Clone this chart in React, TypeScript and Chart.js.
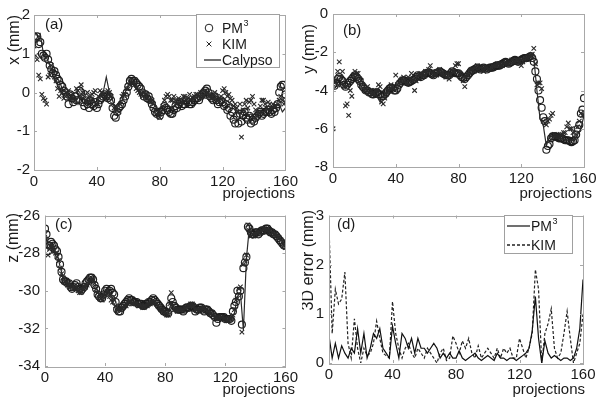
import React, { useEffect, useRef } from 'react';
import { Chart, registerables } from 'chart.js';

Chart.register(...registerables);

const FONT = '"Liberation Sans", Arial, sans-serif';
const TXT = '#1a1a1a';

// every projection (markers)
const PROJ = [
  0, 1, 2, 3, 4, 5, 6, 7, 8, 9,
  10, 11, 12, 13, 14, 15, 16, 17, 18, 19,
  20, 21, 22, 23, 24, 25, 26, 27, 28, 29,
  30, 31, 32, 33, 34, 35, 36, 37, 38, 39,
  40, 41, 42, 43, 44, 45, 46, 47, 48, 49,
  50, 51, 52, 53, 54, 55, 56, 57, 58, 59,
  60, 61, 62, 63, 64, 65, 66, 67, 68, 69,
  70, 71, 72, 73, 74, 75, 76, 77, 78, 79,
  80, 81, 82, 83, 84, 85, 86, 87, 88, 89,
  90, 91, 92, 93, 94, 95, 96, 97, 98, 99,
  100, 101, 102, 103, 104, 105, 106, 107, 108, 109,
  110, 111, 112, 113, 114, 115, 116, 117, 118, 119,
  120, 121, 122, 123, 124, 125, 126, 127, 128, 129,
  130, 131, 132, 133, 134, 135, 136, 137, 138, 139,
  140, 141, 142, 143, 144, 145, 146, 147, 148, 149,
  150, 151, 152, 153, 154, 155, 156, 157, 158, 159,
  160,
];
// every second projection (lines)
const PROJ2 = [
  0, 2, 4, 6, 8, 10, 12, 14, 16, 18,
  20, 22, 24, 26, 28, 30, 32, 34, 36, 38,
  40, 42, 44, 46, 48, 50, 52, 54, 56, 58,
  60, 62, 64, 66, 68, 70, 72, 74, 76, 78,
  80, 82, 84, 86, 88, 90, 92, 94, 96, 98,
  100, 102, 104, 106, 108, 110, 112, 114, 116, 118,
  120, 122, 124, 126, 128, 130, 132, 134, 136, 138,
  140, 142, 144, 146, 148, 150, 152, 154, 156, 158,
  160,
];

// (a) x (mm)
const A_PM3 = [
  1.45, 1.4, 1.45, 1.25, 1.3, 1.0, 0.95, 0.9, 1.0, 0.85,
  0.7, 0.6, 0.5, 0.55, 0.45, 0.35, 0.3, 0.2, 0.15, 0.05,
  0.0, -0.1, -0.3, -0.05, -0.15, -0.25, -0.1, -0.2, -0.2, 0.05,
  0.0, -0.25, -0.35, -0.2, -0.3, -0.4, -0.2, -0.3, -0.35, -0.25,
  -0.4, -0.3, -0.2, -0.15, -0.1, -0.05, -0.1, -0.15, -0.1, -0.2,
  -0.4, -0.6, -0.65, -0.5, -0.4, -0.35, -0.3, -0.2, -0.1, 0.0,
  0.15, 0.3, 0.35, 0.3, 0.3, 0.25, 0.2, 0.15, 0.1, 0.0,
  -0.1, -0.05, -0.15, -0.1, -0.2, -0.3, -0.4, -0.5, -0.55, -0.5,
  -0.6, -0.5, -0.45, -0.35, -0.4, -0.45, -0.5, -0.55, -0.55, -0.45,
  -0.35, -0.4, -0.3, -0.25, -0.35, -0.3, -0.3, -0.2, -0.25, -0.3,
  -0.3, -0.25, -0.2, -0.15, -0.15, -0.2, -0.1, -0.05, 0.0, 0.05,
  0.1, 0.0, -0.1, -0.15, -0.2, -0.1, -0.2, -0.3, -0.25, -0.2,
  -0.25, -0.35, -0.3, -0.45, -0.4, -0.6, -0.5, -0.7, -0.8, -0.6,
  -0.8, -0.55, -0.75, -0.6, -0.5, -0.65, -0.7, -0.6, -0.8, -0.7,
  -0.75, -0.65, -0.6, -0.55, -0.5, -0.6, -0.55, -0.5, -0.5, -0.45,
  -0.5, -0.55, -0.45, -0.5, -0.4, -0.3, 0.0, 0.15, 0.2, 0.2,
  -0.05,
];
const A_KIM = [
  1.2, 0.95, 0.85, 0.45, 0.35, -0.05, -0.15, -0.2, -0.3, 0.4,
  0.45, 0.7, 0.55, 0.4, 0.3, 0.1, -0.1, 0.05, 0.0, -0.15,
  -0.1, 0.0, 0.05, -0.15, -0.1, -0.05, -0.2, 0.1, 0.05, -0.1,
  0.2, 0.0, -0.1, -0.2, 0.0, -0.1, -0.2, -0.05, 0.0, 0.05,
  -0.3, -0.1, 0.05, 0.0, -0.05, -0.15, -0.1, 0.05, 0.0, -0.1,
  -0.3, -0.4, -0.35, -0.45, -0.5, -0.3, -0.1, -0.05, -0.05, 0.1,
  0.1, 0.2, 0.3, 0.25, 0.2, 0.1, 0.05, 0.0, -0.05, -0.1,
  0.0, -0.05, -0.15, -0.2, -0.25, -0.2, -0.3, -0.45, -0.55, -0.6,
  -0.65, -0.5, -0.35, -0.2, -0.1, -0.05, -0.1, -0.2, -0.2, -0.1,
  -0.2, -0.3, -0.15, -0.2, -0.25, -0.1, -0.1, -0.2, -0.15, -0.05,
  -0.2, -0.15, -0.1, -0.05, -0.05, -0.1, 0.0, -0.1, -0.1, 0.05,
  0.0, -0.1, -0.05, -0.15, -0.1, 0.0, -0.1, -0.2, -0.15, -0.1,
  0.05, 0.1, 0.0, -0.1, -0.05, -0.15, -0.2, -0.35, -0.3, -0.4,
  -0.5, -0.3, -1.15, -0.45, -0.3, -0.2, -0.4, -0.25, -0.2, -0.1,
  -0.3, -0.45, -0.6, -0.5, -0.35, -0.2, -0.2, -0.3, -0.4, -0.25,
  -0.3, -0.4, -0.3, -0.35, -0.35, -0.3, -0.2, -0.1, -0.2, -0.3,
  -0.25,
];
const A_CAL = [
  1.4, 1.3, 1.5, 1.0, 0.9, 0.7, 0.55, 0.4, 0.3, 0.1,
  0.0, -0.1, -0.2, -0.1, -0.3, -0.1, -0.2, -0.3, -0.1, -0.2,
  -0.3, -0.1, 0.0, 0.4, 0.0, -0.2, -0.5, -0.3, -0.2, 0.0,
  0.2, 0.3, 0.25, 0.1, 0.0, -0.1, -0.1, -0.2, -0.3, -0.4,
  -0.5, -0.45, -0.3, -0.35, -0.4, -0.3, -0.25, -0.3, -0.2, -0.25,
  -0.2, -0.15, -0.1, -0.1, -0.05, 0.0, -0.1, -0.15, -0.2, -0.2,
  -0.15, -0.2, -0.25, -0.3, -0.4, -0.55, -0.5, -0.45, -0.6, -0.55,
  -0.7, -0.6, -0.5, -0.5, -0.45, -0.45, -0.4, -0.35, -0.3, -0.5,
  -0.4,
];

// (b) y (mm)
const B_PM3 = [
  -3.7, -3.75, -3.6, -3.4, -3.3, -3.4, -3.5, -3.7, -3.8, -3.7,
  -3.6, -3.5, -3.4, -3.3, -3.2, -3.3, -3.4, -3.5, -3.7, -3.8,
  -3.9, -4.0, -4.0, -4.1, -4.1, -4.2, -4.2, -4.15, -4.1, -4.2,
  -4.2, -4.3, -4.3, -4.2, -4.1, -4.0, -3.9, -3.85, -3.9, -4.0,
  -4.0, -3.9, -3.7, -3.6, -3.5, -3.45, -3.5, -3.55, -3.6, -3.55,
  -3.5, -3.45, -3.4, -3.3, -3.2, -3.25, -3.3, -3.2, -3.2, -3.1,
  -3.1, -3.05, -3.1, -3.15, -3.2, -3.1, -3.1, -3.05, -3.0, -3.05,
  -3.1, -3.15, -3.2, -3.2, -3.2, -3.1, -3.0, -3.05, -3.1, -3.1,
  -3.1, -3.2, -3.3, -3.35, -3.4, -3.3, -3.2, -3.1, -3.0, -2.95,
  -2.9, -2.85, -2.8, -2.85, -2.9, -2.85, -2.8, -2.85, -2.9, -2.85,
  -2.8, -2.8, -2.8, -2.75, -2.7, -2.7, -2.7, -2.65, -2.6, -2.55,
  -2.5, -2.55, -2.6, -2.55, -2.5, -2.45, -2.4, -2.45, -2.5, -2.45,
  -2.4, -2.35, -2.3, -2.3, -2.3, -2.25, -2.2, -2.3, -2.5, -3.0,
  -3.4, -4.0, -4.5, -4.9, -5.4, -5.6, -7.1, -6.9, -6.8, -6.5,
  -6.4, -6.4, -6.4, -6.45, -6.5, -6.5, -6.5, -6.55, -6.6, -6.6,
  -6.6, -6.65, -6.7, -6.65, -6.6, -6.3, -6.0, -5.8, -5.2, -5.0,
  -4.4,
];
const B_KIM = [
  -6.0, -3.6, -3.5, -3.0, -2.5, -3.3, -3.0, -3.8, -4.8, -4.7,
  -5.3, -4.0, -4.3, -3.2, -3.0, -3.1, -3.1, -3.4, -3.5, -3.7,
  -4.0, -3.9, -3.8, -4.1, -4.0, -4.2, -4.1, -4.0, -4.0, -3.7,
  -3.8, -4.6, -4.7, -4.4, -4.2, -4.0, -3.9, -3.7, -3.8, -3.9,
  -3.2, -3.7, -3.6, -3.5, -3.4, -3.3, -3.5, -3.6, -3.3, -3.4,
  -3.1, -3.5, -4.0, -3.5, -3.3, -3.2, -3.1, -3.3, -3.2, -3.0,
  -3.0, -2.9, -2.7, -3.1, -3.0, -3.2, -3.2, -3.0, -2.9, -3.1,
  -3.1, -3.2, -3.3, -3.1, -3.4, -3.2, -3.0, -3.0, -2.7, -2.6,
  -2.6, -3.1, -3.2, -3.5, -3.8, -3.3, -3.2, -3.0, -2.9, -2.9,
  -3.0, -2.8, -2.7, -2.9, -2.8, -2.9, -3.0, -2.8, -2.8, -2.9,
  -2.9, -2.8, -2.7, -2.7, -2.7, -2.6, -2.6, -2.7, -2.7, -2.6,
  -2.5, -2.6, -2.6, -2.5, -2.4, -2.5, -2.5, -2.4, -2.4, -2.5,
  -2.7, -2.5, -2.4, -2.3, -2.3, -2.2, -2.2, -2.1, -1.8, -2.6,
  -3.7, -3.6, -3.6, -3.9, -5.6, -5.7, -5.8, -5.6, -5.5, -5.3,
  -5.2, -6.3, -6.4, -6.4, -6.4, -6.3, -6.3, -6.2, -6.2, -5.9,
  -5.7, -6.0, -6.0, -6.2, -6.5, -6.3, -5.9, -5.6, -5.2, -5.3,
  -5.3,
];
const B_CAL = [
  -3.7, -3.5, -3.8, -3.6, -3.8, -3.7, -3.4, -3.3, -3.5, -3.8,
  -3.9, -4.0, -4.1, -4.2, -4.3, -4.6, -4.3, -4.1, -4.0, -3.9,
  -4.0, -3.7, -3.5, -3.6, -3.5, -3.6, -3.4, -3.3, -3.2, -3.3,
  -3.1, -3.0, -3.1, -3.2, -3.0, -3.2, -3.1, -3.2, -3.1, -3.0,
  -3.0, -3.2, -3.3, -3.1, -2.9, -2.8, -2.9, -2.8, -2.9, -2.8,
  -2.9, -2.7, -2.8, -2.7, -2.6, -2.6, -2.5, -2.6, -2.5, -2.4,
  -2.4, -2.3, -2.3, -2.2, -2.3, -4.0, -5.5, -5.8, -6.9, -6.4,
  -6.4, -6.5, -6.5, -6.5, -6.6, -6.6, -6.6, -6.6, -6.3, -6.0,
  -5.3,
];

// (c) z (mm)
const C_PM3 = [
  -26.7, -27.0, -27.9, -27.6, -27.4, -27.5, -27.6, -27.8, -27.9, -28.2,
  -28.6, -29.0, -29.4, -29.5, -29.5, -29.6, -29.6, -29.8, -29.9, -29.8,
  -29.7, -29.6, -29.8, -29.9, -30.0, -29.9, -29.8, -29.6, -29.5, -29.4,
  -29.3, -29.3, -29.4, -29.7, -29.9, -30.2, -30.3, -30.4, -30.4, -30.2,
  -30.0, -29.9, -30.1, -30.0, -29.9, -30.1, -30.2, -30.6, -31.0, -31.1,
  -31.1, -30.9, -30.8, -30.7, -30.6, -30.5, -30.4, -30.5, -30.5, -30.6,
  -30.6, -30.6, -30.7, -30.7, -30.7, -30.8, -30.8, -30.7, -30.7, -30.6,
  -30.6, -30.5, -30.4, -30.5, -30.6, -30.7, -30.8, -30.9, -31.0, -31.1,
  -31.1, -31.2, -31.2, -30.8, -30.4, -30.6, -30.8, -30.9, -31.0, -31.0,
  -31.0, -31.0, -31.1, -31.0, -30.9, -30.9, -30.9, -30.8, -30.8, -30.9,
  -31.1, -31.0, -31.0, -30.9, -30.9, -31.0, -31.1, -31.0, -31.0, -31.1,
  -31.2, -31.2, -31.3, -31.4, -31.7, -31.5, -31.4, -31.4, -31.4, -31.4,
  -31.5, -31.5, -31.5, -31.5, -31.6, -31.1, -30.8, -30.6, -30.0, -30.3,
  -30.0, -31.8, -28.8, -28.5, -28.2, -26.6, -26.7, -26.9, -27.0, -27.0,
  -26.9, -26.9, -27.0, -26.9, -26.8, -26.8, -26.8, -26.7, -26.7, -26.8,
  -26.9, -26.9, -27.0, -27.0, -27.1, -27.2, -27.3, -27.4, -27.5, -27.6,
  -27.6,
];
const C_KIM = [
  -27.0, -27.3, -28.1, -27.8, -27.7, -27.6, -27.9, -28.0, -28.2, -28.4,
  -28.8, -29.1, -29.3, -29.5, -29.6, -29.7, -29.7, -29.8, -29.8, -29.9,
  -29.9, -29.8, -30.0, -30.1, -30.1, -29.9, -29.8, -29.8, -29.7, -29.6,
  -29.5, -29.4, -29.4, -29.6, -29.9, -30.1, -30.2, -30.4, -30.5, -30.3,
  -30.2, -30.0, -30.1, -30.3, -30.5, -30.6, -30.5, -30.8, -31.0, -31.0,
  -31.0, -30.9, -30.9, -30.8, -30.8, -30.7, -30.6, -30.6, -30.7, -30.7,
  -30.7, -30.7, -30.8, -30.8, -30.8, -30.9, -30.9, -30.8, -30.8, -30.7,
  -30.7, -30.6, -30.6, -30.6, -30.7, -30.8, -30.9, -31.0, -31.0, -31.1,
  -31.2, -31.3, -31.3, -30.7, -30.1, -30.8, -31.0, -31.0, -31.1, -31.0,
  -31.0, -31.0, -31.0, -30.9, -30.9, -30.8, -30.8, -30.7, -30.7, -30.8,
  -31.0, -31.0, -31.1, -31.0, -31.0, -30.9, -30.9, -31.0, -31.1, -31.1,
  -31.2, -31.3, -31.3, -31.4, -31.4, -31.5, -31.5, -31.4, -31.4, -31.5,
  -31.5, -31.6, -31.6, -31.5, -31.5, -31.3, -31.0, -30.5, -30.4, -29.9,
  -29.8, -32.2, -28.6, -28.4, -28.1, -26.5, -26.8, -27.1, -27.0, -27.1,
  -27.0, -26.9, -26.9, -26.9, -26.8, -26.7, -26.7, -26.8, -26.8, -26.9,
  -26.8, -26.9, -27.0, -27.0, -27.1, -27.2, -27.2, -27.3, -27.4, -27.6,
  -27.7,
];
const C_CAL = [
  -26.8, -27.8, -27.5, -27.8, -28.0, -28.7, -29.3, -29.5, -29.6, -29.7,
  -29.8, -29.9, -29.9, -29.7, -29.6, -29.4, -29.3, -29.8, -30.2, -30.3,
  -30.1, -30.0, -30.2, -30.3, -30.9, -31.0, -30.8, -30.7, -30.5, -30.6,
  -30.6, -30.7, -30.8, -30.8, -30.7, -30.6, -30.5, -30.6, -30.8, -30.9,
  -31.1, -31.2, -30.6, -30.9, -31.0, -31.0, -31.0, -30.9, -30.9, -30.8,
  -31.0, -31.0, -30.9, -31.0, -31.1, -31.2, -31.3, -31.4, -31.4, -31.4,
  -31.5, -31.5, -31.5, -31.2, -30.3, -30.1, -32.1, -28.3, -26.6, -27.0,
  -26.9, -26.9, -26.8, -26.7, -26.7, -26.8, -26.9, -27.0, -27.2, -27.4,
  -27.6,
];

// (d) 3D error (mm)
const D_PM3 = [
  0.55, 0.1, 0.4, 0.1, 0.35, 0.2, 0.1, 0.3, 0.2, 0.7,
  0.2, 0.6, 0.1, 0.3, 0.6, 0.5, 0.7, 0.3, 0.2, 0.1,
  0.75, 0.4, 0.1, 0.6, 0.5, 0.3, 0.5, 0.2, 0.5, 0.3,
  0.3, 0.2, 0.3, 0.4, 0.3, 0.1, 0.2, 0.1, 0.2, 0.1,
  0.1, 0.25, 0.1, 0.05, 0.1, 0.15, 0.2, 0.1, 0.05, 0.1,
  0.15, 0.1, 0.05, 0.2, 0.1, 0.1, 0.05, 0.1, 0.1, 0.05,
  0.1, 0.15, 0.2, 0.3, 0.65, 1.35, 0.5, 0.0, 0.45, 0.2,
  0.1, 0.15, 0.1, 0.05, 0.1, 0.1, 0.05, 0.1, 0.3, 0.7,
  1.7,
];
const D_KIM = [
  2.8, 0.6, 1.5, 1.2, 1.3, 1.85, 0.4, 0.1, 0.9, 0.3,
  0.0, 0.3, 0.15, 0.2, 0.4, 0.85, 0.5, 0.2, 0.15, 0.1,
  1.25, 0.6, 0.3, 0.1, 0.3, 0.4, 0.2, 0.1, 0.3, 0.2,
  0.1, 0.3, 0.2, 0.1, 0.0, 0.2, 0.3, 0.05, 0.1, 0.55,
  0.4, 0.2, 0.45, 0.3, 0.5, 0.2, 0.1, 0.35, 0.1, 0.2,
  0.3, 0.2, 0.1, 0.3, 0.1, 0.3, 0.2, 0.3, 0.1, 0.1,
  0.5, 0.3, 0.1, 0.3, 0.6, 1.9, 1.5, 0.0, 0.6, 0.8,
  1.1, 0.3, 0.1, 0.2, 0.6, 1.05, 0.5, 0.0, 0.2, 0.4,
  1.0,
];

const X_TICKS = [0, 40, 80, 120, 160];

const pts = (xs: number[], arr: number[]) => xs.map((x, i) => ({ x, y: arr[i] }));

const circleDs = (label: string, arr: number[]) => ({
  label, data: pts(PROJ, arr), showLine: false, order: 2,
  pointStyle: 'circle', pointRadius: 3.5, pointBorderWidth: 1.15,
  pointBorderColor: '#1e1e1e', pointBackgroundColor: 'rgba(0,0,0,0)',
  borderColor: '#1e1e1e', backgroundColor: 'rgba(0,0,0,0)',
});
const crossDs = (label: string, arr: number[]) => ({
  label, data: pts(PROJ, arr), showLine: false, order: 1,
  pointStyle: 'crossRot', pointRadius: 3.2, pointBorderWidth: 1.1,
  pointBorderColor: '#2a2a2a', pointBackgroundColor: 'rgba(0,0,0,0)',
  borderColor: '#2a2a2a', backgroundColor: 'rgba(0,0,0,0)',
});
const lineDs = (label: string, arr: number[], dash: number[] = [], color = '#2a2a2a') => ({
  label, data: pts(PROJ2, arr), showLine: true, order: 0, pointRadius: 0,
  borderColor: color, borderWidth: 1.2, borderDash: dash, tension: 0,
  backgroundColor: 'rgba(0,0,0,0)', fill: false,
});

type LegendItem = { kind: 'circle' | 'cross' | 'line' | 'dash'; text: string; sup?: string; y: number };
type LegendCfg = { box: [number, number, number, number]; markX: number; line: [number, number]; textX: number; items: LegendItem[] };

type PanelCfg = {
  key: string; left: number; top: number; W: number; H: number;
  area: { l: number; t: number; r: number; b: number };
  yMin: number; yMax: number; yStep: number; yPad: number;
  yTitle: string; yTitleX: number; yTitleTop: number;
  xTitle: string; xTitleRight: number; xTitleY: number;
  label: string; labelX: number; labelY: number;
  legend?: LegendCfg;
  datasets: any[];
};

const PANELS: PanelCfg[] = [
  {
    key: 'a', left: 0, top: 0, W: 302, H: 203,
    area: { l: 34, t: 15, r: 289, b: 170 },
    yMin: -2, yMax: 2, yStep: 1, yPad: 4,
    yTitle: 'x (mm)', yTitleX: 15, yTitleTop: 15,
    xTitle: 'projections', xTitleRight: 295, xTitleY: 194,
    label: '(a)', labelX: 45, labelY: 25,
    legend: {
      box: [196, 14, 279, 67], markX: 209, line: [204, 221], textX: 222,
      items: [
        { kind: 'circle', text: 'PM', sup: '3', y: 28 },
        { kind: 'cross', text: 'KIM', y: 44 },
        { kind: 'line', text: 'Calypso', y: 60 },
      ],
    },
    datasets: [lineDs('Calypso', A_CAL), crossDs('KIM', A_KIM), circleDs('PM3', A_PM3)],
  },
  {
    key: 'b', left: 302, top: 0, W: 302, H: 203,
    area: { l: 31, t: 14, r: 282, b: 167 },
    yMin: -8, yMax: 0, yStep: 2, yPad: 5,
    yTitle: 'y (mm)', yTitleX: 8, yTitleTop: 24,
    xTitle: 'projections', xTitleRight: 290, xTitleY: 194,
    label: '(b)', labelX: 41, labelY: 31,
    datasets: [lineDs('Calypso', B_CAL), crossDs('KIM', B_KIM), circleDs('PM3', B_PM3)],
  },
  {
    key: 'c', left: 0, top: 203, W: 302, H: 203,
    area: { l: 45, t: 10, r: 291, b: 163 },
    yMin: -34, yMax: -26, yStep: 2, yPad: 5,
    yTitle: 'z (mm)', yTitleX: 14, yTitleTop: 10,
    xTitle: 'projections', xTitleRight: 295, xTitleY: 187,
    label: '(c)', labelX: 55, labelY: 22,
    datasets: [lineDs('Calypso', C_CAL), crossDs('KIM', C_KIM), circleDs('PM3', C_PM3)],
  },
  {
    key: 'd', left: 302, top: 203, W: 302, H: 203,
    area: { l: 27, t: 8, r: 281, b: 160 },
    yMin: 0, yMax: 3, yStep: 1, yPad: 5,
    yTitle: '3D error (mm)', yTitleX: 7, yTitleTop: 7,
    xTitle: 'projections', xTitleRight: 283, xTitleY: 187,
    label: '(d)', labelX: 35, labelY: 22,
    legend: {
      box: [202, 12, 270, 50], markX: 214, line: [205, 228], textX: 229,
      items: [
        { kind: 'line', text: 'PM', sup: '3', y: 23 },
        { kind: 'dash', text: 'KIM', y: 42 },
      ],
    },
    datasets: [lineDs('PM3', D_PM3, [], '#111'), lineDs('KIM', D_KIM, [3, 2], '#222')],
  },
];

function makeDecor(cfg: PanelCfg) {
  return {
    id: 'decor_' + cfg.key,
    afterDraw(chart: any) {
      const ctx: CanvasRenderingContext2D = chart.ctx;
      const { left, top, right, bottom } = chart.chartArea;
      const xs = chart.scales.x;
      const ys = chart.scales.y;
      ctx.save();
      // frame
      ctx.strokeStyle = '#a8a8a8';
      ctx.lineWidth = 1;
      ctx.setLineDash([]);
      ctx.strokeRect(Math.round(left) + 0.5, Math.round(top) + 0.5, Math.round(right - left), Math.round(bottom - top));
      // inner ticks
      ctx.beginPath();
      const tl = 3;
      xs.ticks.forEach((t: any) => {
        const px = Math.round(xs.getPixelForValue(t.value)) + 0.5;
        ctx.moveTo(px, bottom); ctx.lineTo(px, bottom - tl);
        ctx.moveTo(px, top); ctx.lineTo(px, top + tl);
      });
      ys.ticks.forEach((t: any) => {
        const py = Math.round(ys.getPixelForValue(t.value)) + 0.5;
        ctx.moveTo(left, py); ctx.lineTo(left + tl, py);
        ctx.moveTo(right, py); ctx.lineTo(right - tl, py);
      });
      ctx.stroke();

      ctx.fillStyle = TXT;
      // panel label
      ctx.font = `15px ${FONT}`;
      ctx.textAlign = 'left';
      ctx.textBaseline = 'middle';
      ctx.fillText(cfg.label, cfg.labelX, cfg.labelY);
      // x title
      ctx.textAlign = 'right';
      ctx.fillText(cfg.xTitle, cfg.xTitleRight, cfg.xTitleY);
      // y title
      ctx.save();
      ctx.translate(cfg.yTitleX, cfg.yTitleTop);
      ctx.rotate(-Math.PI / 2);
      ctx.font = `16px ${FONT}`;
      ctx.textAlign = 'right';
      ctx.textBaseline = 'middle';
      ctx.fillText(cfg.yTitle, 0, 0);
      ctx.restore();

      // legend
      const lg = cfg.legend;
      if (lg) {
        const [x0, y0, x1, y1] = lg.box;
        ctx.fillStyle = '#fff';
        ctx.fillRect(x0, y0, x1 - x0, y1 - y0);
        ctx.strokeStyle = '#a0a0a0';
        ctx.strokeRect(x0 + 0.5, y0 + 0.5, x1 - x0, y1 - y0);
        lg.items.forEach((it) => {
          ctx.strokeStyle = '#222';
          ctx.lineWidth = 1;
          ctx.setLineDash([]);
          ctx.beginPath();
          if (it.kind === 'circle') {
            ctx.arc(lg.markX, it.y, 3.8, 0, Math.PI * 2);
          } else if (it.kind === 'cross') {
            const r = 2.4;
            ctx.moveTo(lg.markX - r, it.y - r); ctx.lineTo(lg.markX + r, it.y + r);
            ctx.moveTo(lg.markX - r, it.y + r); ctx.lineTo(lg.markX + r, it.y - r);
          } else {
            if (it.kind === 'dash') ctx.setLineDash([3, 2]);
            ctx.lineWidth = 1.3;
            ctx.moveTo(lg.line[0], it.y); ctx.lineTo(lg.line[1], it.y);
          }
          ctx.stroke();
          ctx.setLineDash([]);
          ctx.fillStyle = TXT;
          ctx.font = `14px ${FONT}`;
          ctx.textAlign = 'left';
          ctx.textBaseline = 'middle';
          ctx.fillText(it.text, lg.textX, it.y + 1);
          if (it.sup) {
            const w = ctx.measureText(it.text).width;
            ctx.font = `9px ${FONT}`;
            ctx.fillText(it.sup, lg.textX + w + 0.5, it.y - 4);
          }
        });
      }
      ctx.restore();
    },
  };
}

function Panel({ cfg }: { cfg: PanelCfg }) {
  const ref = useRef<HTMLCanvasElement | null>(null);
  useEffect(() => {
    if (!ref.current) return;
    const { W, H, area } = cfg;
    const tickFont = { family: FONT, size: 15, lineHeight: 1 };
    const chart = new Chart(ref.current, {
      type: 'line',
      data: { datasets: cfg.datasets },
      options: {
        animation: false,
        responsive: false,
        devicePixelRatio: 1,
        layout: { padding: { left: 0, top: area.t, right: W - area.r, bottom: 0 } },
        plugins: { legend: { display: false }, tooltip: { enabled: false } },
        scales: {
          x: {
            type: 'linear', min: 0, max: 160,
            afterFit: (s: any) => { s.height = H - area.b; },
            afterBuildTicks: (s: any) => { s.ticks = X_TICKS.map((v) => ({ value: v })); },
            ticks: { color: TXT, font: tickFont, padding: 4, maxRotation: 0, autoSkip: false },
            grid: { display: false, drawTicks: false },
            border: { display: false },
          },
          y: {
            type: 'linear', min: cfg.yMin, max: cfg.yMax,
            afterFit: (s: any) => { s.width = area.l; },
            ticks: { stepSize: cfg.yStep, color: TXT, font: tickFont, padding: cfg.yPad },
            grid: { display: false, drawTicks: false },
            border: { display: false },
          },
        },
      } as any,
      plugins: [makeDecor(cfg)],
    });
    return () => chart.destroy();
  }, [cfg]);
  return (
    <canvas
      ref={ref}
      width={cfg.W}
      height={cfg.H}
      style={{ position: 'absolute', left: cfg.left, top: cfg.top, width: cfg.W, height: cfg.H }}
    />
  );
}

export default function App() {
  return (
    <div style={{ position: 'absolute', left: 0, top: 0, width: 604, height: 406, background: '#fff', overflow: 'hidden' }}>
      {PANELS.map((p) => (
        <Panel key={p.key} cfg={p} />
      ))}
    </div>
  );
}
